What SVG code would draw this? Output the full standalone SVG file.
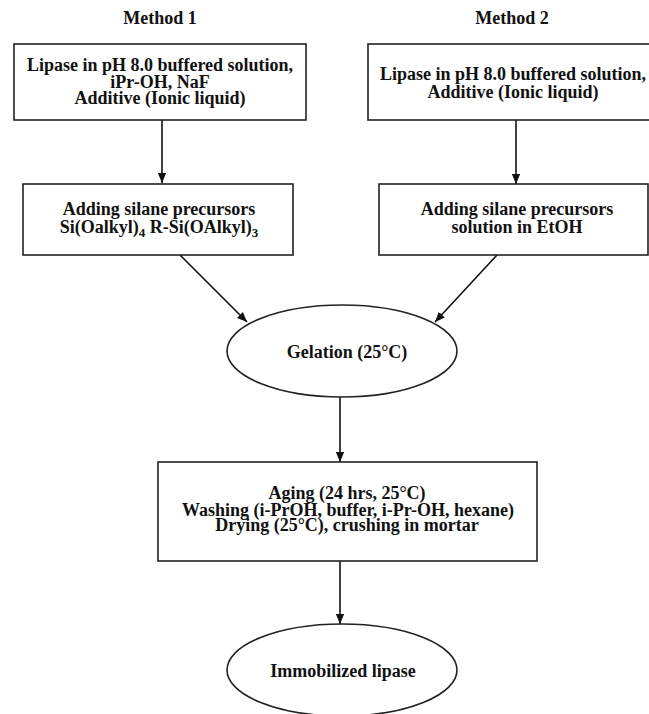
<svg xmlns="http://www.w3.org/2000/svg" width="649" height="714" viewBox="0 0 649 714">
<style>
text{font-family:"Liberation Serif","Times New Roman",serif;font-weight:bold;font-size:18px;fill:#111;text-anchor:middle}
.box{fill:#fff;stroke:#222;stroke-width:1.6}
.conn{stroke:#111;stroke-width:1.6;fill:none}
.sub{font-size:13px}
</style>
<defs>
<marker id="arr" markerUnits="userSpaceOnUse" markerWidth="10" markerHeight="14" refX="12" refY="5" orient="auto" viewBox="0 0 12 10">
<path d="M0,0 L12,5 L0,10 z" fill="#111"/>
</marker>
</defs>
<rect width="649" height="714" fill="#fff"/>
<g id="labels">
<text x="160" y="24">Method 1</text>
<text x="512" y="24">Method 2</text>
</g>
<g id="connectors">
<line class="conn" x1="162" y1="120" x2="162" y2="183" marker-end="url(#arr)"/>
<line class="conn" x1="516" y1="120" x2="516" y2="184" marker-end="url(#arr)"/>
<line class="conn" x1="180" y1="255" x2="247" y2="322" marker-end="url(#arr)"/>
<line class="conn" x1="497" y1="255" x2="435" y2="322" marker-end="url(#arr)"/>
<line class="conn" x1="340" y1="397" x2="340" y2="462" marker-end="url(#arr)"/>
<line class="conn" x1="340" y1="561" x2="340" y2="624" marker-end="url(#arr)"/>
</g>
<g id="m1_start">
<rect class="box" x="14" y="44" width="292" height="76"/>
<text x="160" y="71">Lipase in pH 8.0 buffered solution,</text>
<text x="160" y="87.5">iPr-OH, NaF</text>
<text x="160" y="104">Additive (Ionic liquid)</text>
</g>
<g id="m2_start">
<rect class="box" x="368" y="44" width="290" height="76"/>
<text x="513" y="80">Lipase in pH 8.0 buffered solution,</text>
<text x="513" y="98">Additive (Ionic liquid)</text>
</g>
<g id="m1_silane">
<rect class="box" x="23" y="184" width="270" height="71"/>
<text x="159" y="215">Adding silane precursors</text>
<text x="159" y="233">Si(Oalkyl)<tspan class="sub" dy="4">4</tspan><tspan dy="-4"> R-Si(OAlkyl)</tspan><tspan class="sub" dy="4">3</tspan></text>
</g>
<g id="m2_silane">
<rect class="box" x="379" y="184" width="269" height="71"/>
<text x="517" y="215">Adding silane precursors</text>
<text x="517" y="233">solution in EtOH</text>
</g>
<g id="gelation">
<ellipse class="box" cx="342" cy="351" rx="115" ry="46"/>
<text x="347" y="358">Gelation (25°C)</text>
</g>
<g id="processing">
<rect class="box" x="158" y="462" width="379" height="99"/>
<text x="347" y="499">Aging (24 hrs, 25°C)</text>
<text x="348" y="515.5">Washing (i-PrOH, buffer, i-Pr-OH, hexane)</text>
<text x="347" y="531">Drying (25°C), crushing in mortar</text>
</g>
<g id="immobilized">
<ellipse class="box" cx="342" cy="670" rx="115" ry="46"/>
<text x="343" y="677">Immobilized lipase</text>
</g>
</svg>
